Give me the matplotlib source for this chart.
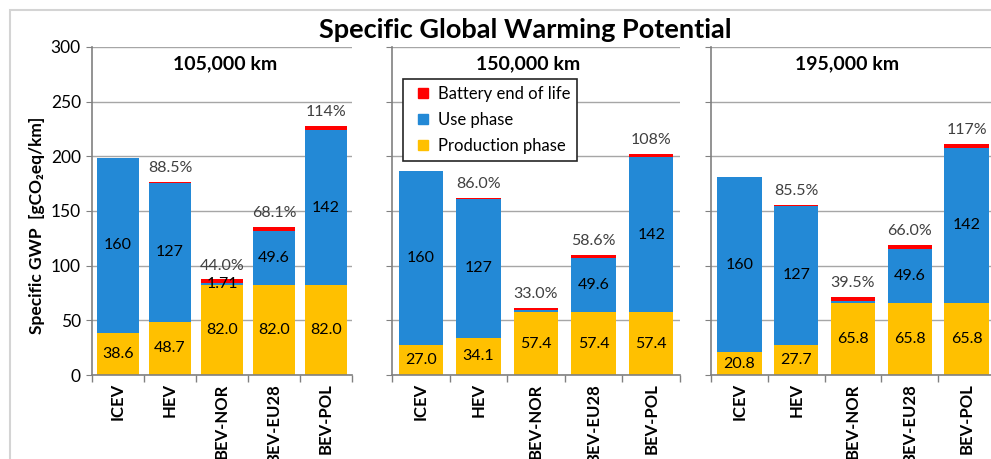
import matplotlib
matplotlib.use("Agg")
import matplotlib.pyplot as plt
from matplotlib.patches import Rectangle
from matplotlib.lines import Line2D

plt.rcParams['font.family'] = ['Lato', 'DejaVu Sans']

# data
categories = ['ICEV', 'HEV', 'BEV-NOR', 'BEV-EU28', 'BEV-POL']
distances = ['105,000 km', '150,000 km', '195,000 km']
production = [[38.6, 48.7, 82.0, 82.0, 82.0],
              [27.0, 34.1, 57.4, 57.4, 57.4],
              [20.8, 27.7, 65.8, 65.8, 65.8]]
use_phase = [160, 127, 1.71, 49.6, 142]
use_labels = [['160', '127', '1.71', '49.6', '142'],
              ['160', '127', '', '49.6', '142'],
              ['160', '127', '', '49.6', '142']]
battery = [[0, 0.8, 3.7, 3.7, 3.7],
           [0, 0.8, 2.6, 2.6, 2.6],
           [0, 0.8, 3.9, 3.9, 3.9]]
pct_labels = [['', '88.5%', '44.0%', '68.1%', '114%'],
              ['', '86.0%', '33.0%', '58.6%', '108%'],
              ['', '85.5%', '39.5%', '66.0%', '117%']]

c_prod = '#FFC000'
c_use = '#2389D6'
c_batt = '#FF0000'
W, H = 991, 459

fig = plt.figure(figsize=(W / 100, H / 100), dpi=100)
fig.patches.append(Rectangle((9.5 / W, -0.1), 1.2, 1.1 - 10 / H, transform=fig.transFigure,
                             fill=False, edgecolor='#D4D4D4', lw=1.5))

# axes boxes in pixels (left, right, bar width)
panels = [(92, 352, 0.79), (392, 680, 0.77), (711, 995, 0.78)]
title_x = [225, 528, 847]
y0, y300 = 375, 47

for p in range(3):
    left, right, bw = panels[p]
    ax = fig.add_axes([left / W, 1 - y0 / H, (right - left) / W, (y0 - y300) / H])
    x = list(range(5))
    use_bottom = production[p]
    batt_bottom = [production[p][i] + use_phase[i] for i in x]
    ax.bar(x, production[p], bw, color=c_prod, zorder=2)
    ax.bar(x, use_phase, bw, bottom=use_bottom, color=c_use, zorder=2)
    ax.bar(x, battery[p], bw, bottom=batt_bottom, color=c_batt, zorder=2)

    for i in x:
        ax.text(i, production[p][i] / 2, '%.1f' % production[p][i], ha='center', va='center',
                fontsize=11.5, color='black', zorder=3)
        if use_labels[p][i]:
            ax.text(i, use_bottom[i] + use_phase[i] / 2, use_labels[p][i], ha='center',
                    va='center', fontsize=11.5, color='black', zorder=3)
        if pct_labels[p][i]:
            top = batt_bottom[i] + battery[p][i]
            ax.annotate(pct_labels[p][i], (i, top), xytext=(0, 10), textcoords='offset points',
                        ha='center', va='center', fontsize=11.5, color='#404040')

    ax.set_xlim(-0.5, 4.5)
    ax.set_ylim(0, 300)
    ax.set_yticks(range(0, 301, 50))
    ax.yaxis.grid(True, color='#A6A6A6', lw=1)
    ax.set_axisbelow(True)
    ax.set_xticks(x)
    ax.set_xticklabels(categories, rotation=90, fontsize=12, fontweight='bold')
    ax.set_xticks([i - 0.5 for i in range(6)], minor=True)
    ax.tick_params(axis='x', which='major', length=0, pad=6)
    ax.tick_params(axis='x', which='minor', length=5, color='#808080', width=1)
    ax.tick_params(axis='y', length=4, color='#808080', labelsize=12.5, pad=4)
    if p > 0:
        ax.set_yticklabels([])
    for s in ['top', 'right']:
        ax.spines[s].set_visible(False)
    for s in ['left', 'bottom']:
        ax.spines[s].set_color('#808080')
        ax.spines[s].set_linewidth(1.2)

    fig.text(title_x[p] / W, 1 - 64 / H, distances[p], ha='center', va='center',
             fontsize=14, fontweight='bold')

    if p == 1:
        handles = [Line2D([], [], ls='none', marker='s', markersize=7.5, color=c)
                   for c in (c_batt, c_use, c_prod)]
        leg = ax.legend(handles, ['Battery end of life', 'Use phase', 'Production phase'],
                        loc='upper left', bbox_to_anchor=(403 / W, 1 - 79 / H),
                        bbox_transform=fig.transFigure, fontsize=12, handlelength=1.6,
                        handletextpad=0.1, labelspacing=0.62, borderpad=0.4,
                        borderaxespad=0, fancybox=False, framealpha=1)
        leg.get_frame().set_edgecolor('#262626')
        leg.get_frame().set_linewidth(1.2)

fig.text(525 / W, 1 - 30 / H, 'Specific Global Warming Potential', ha='center', va='center',
         fontsize=19.5, fontweight='bold')
fig.text(37 / W, 1 - 225 / H, 'Specific GWP  [gCO₂eq/km]', rotation=90, ha='center',
         va='center', fontsize=12.5, fontweight='bold')

fig.savefig('out.png', dpi=100)
